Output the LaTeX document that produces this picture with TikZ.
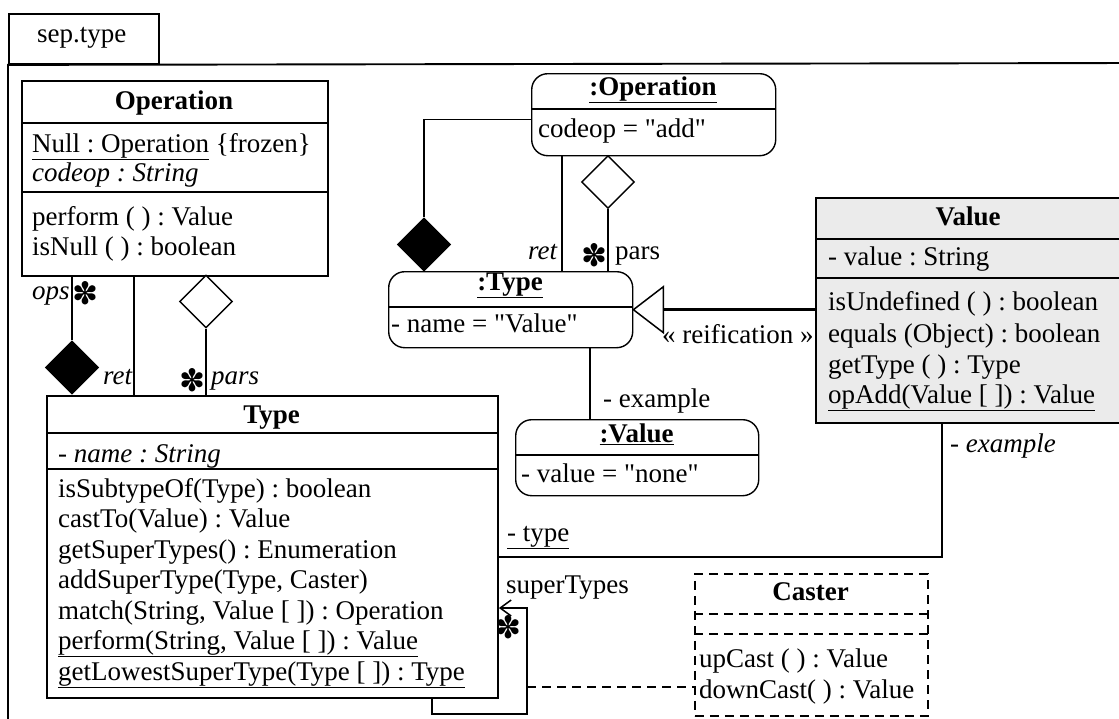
\documentclass[tikz,border=0pt]{standalone}
\usepackage{fontspec}
\setmainfont{Liberation Serif}[Ligatures=TeXOff]
\newfontfamily\dingfont{DejaVu Sans}
\usetikzlibrary{shapes.geometric,arrows.meta}
\newcommand\dgfont{\fontsize{27}{31}\selectfont\frenchspacing}
\newcommand\manystar{{\dingfont\fontsize{31}{31}\selectfont ✽}}

\begin{document}
\begin{tikzpicture}[x=1pt,y=-1pt,
  box/.style={draw, line width=1.9pt, inner sep=0pt, anchor=north west},
  dbox/.style={box, dash pattern=on 9pt off 6pt},
  objbox/.style={draw, line width=1.4pt, rounded corners=16pt, inner sep=0pt, anchor=north west},
  sepline/.style={line width=1.9pt},
  objsep/.style={line width=1.4pt},
  conn/.style={line width=1.5pt},
  txt/.style={inner sep=0pt, font=\dgfont, anchor=base west},
  itxt/.style={inner sep=0pt, font=\dgfont\itshape, anchor=base west},
  head/.style={inner sep=0pt, font=\dgfont\bfseries, anchor=base},
  fdia/.style={diamond, draw, fill=black, line width=1.2pt, minimum width=53pt, minimum height=53pt, inner sep=0pt},
  odia/.style={diamond, draw, fill=white, line width=1.4pt, minimum width=53pt, minimum height=53pt, inner sep=0pt},
  multstar/.style={inner sep=0pt, anchor=center},
]
\definecolor{valfill}{RGB}{235,235,235}
\useasboundingbox (0,0) rectangle (1119,718);

% package frame with its tab
\node[box, minimum width=150pt, minimum height=50pt] (tab) at (8,13) {};
\node[txt] (tabname) at (37,42) {sep.type};
\coordinate (frameR) at (1135,63);
\coordinate (frameB) at (8,730);
\draw[sepline] (frameR) -- (tab.south west) -- (frameB);

% class Operation
\node[box, minimum width=306pt, minimum height=195pt] (op) at (21,80) {};
\draw[sepline] ([yshift=-43pt]op.north west) -- ([yshift=-43pt]op.north east);
\draw[sepline] ([yshift=-112pt]op.north west) -- ([yshift=-112pt]op.north east);
\node[head] (opname) at (174,109) {Operation};
\node[txt] (opa1) at (32,152) {\underline{Null : Operation} \{frozen\}};
\node[itxt] (opa2) at (32,181) {codeop : String};
\node[txt] (opm1) at (32,225) {perform ( ) : Value};
\node[txt] (opm2) at (32,255) {isNull ( ) : boolean};

% class Type
\node[box, minimum width=451pt, minimum height=302pt] (ty) at (46,395) {};
\draw[sepline] ([yshift=-38pt]ty.north west) -- ([yshift=-38pt]ty.north east);
\draw[sepline] ([yshift=-74pt]ty.north west) -- ([yshift=-74pt]ty.north east);
\node[head] (tyname) at (271.5,423) {Type};
\node[itxt] (tya1) at (58,462) {- name : String};
\node[txt] (tym1) at (58,497) {isSubtypeOf(Type) : boolean};
\node[txt] (tym2) at (58,527) {castTo(Value) : Value};
\node[txt] (tym3) at (58,558) {getSuperTypes() : Enumeration};
\node[txt] (tym4) at (58,588) {addSuperType(Type, Caster)};
\node[txt] (tym5) at (58,619) {match(String, Value [ ]) : Operation};
\node[txt] (tym6) at (58,649) {\underline{perform(String, Value [ ]) : Value}};
\node[txt] (tym7) at (58,680) {\underline{getLowestSuperType(Type [ ]) : Type}};

% object :Operation
\node[objbox, minimum width=244pt, minimum height=82pt] (oo) at (531,73) {};
\draw[objsep] ([yshift=-36pt]oo.north west) -- ([yshift=-36pt]oo.north east);
\node[head] (ooname) at (653,95) {\underline{:Operation}};
\node[txt] (ooa1) at (538,137) {codeop = "add"};

% object :Type
\node[objbox, minimum width=244pt, minimum height=76pt] (ot) at (388,271) {};
\draw[objsep] ([yshift=-36pt]ot.north west) -- ([yshift=-36pt]ot.north east);
\node[head] (otname) at (510,290) {\underline{:Type}};
\node[txt] (ota1) at (391,332) {- name = "Value"};

% object :Value
\node[objbox, minimum width=243pt, minimum height=76pt] (ov) at (515,419) {};
\draw[objsep] ([yshift=-36pt]ov.north west) -- ([yshift=-36pt]ov.north east);
\node[head] (ovname) at (636.5,442) {\underline{:Value}};
\node[txt] (ova1) at (521,482) {- value = "none"};

% class Value
\node[box, fill=valfill, minimum width=307pt, minimum height=225pt] (val) at (815,197) {};
\draw[sepline] ([yshift=-42pt]val.north west) -- ([yshift=-42pt]val.north east);
\draw[sepline] ([yshift=-81pt]val.north west) -- ([yshift=-81pt]val.north east);
\node[head] (valname) at (968,225) {Value};
\node[txt] (vala1) at (828,265) {- value : String};
\node[txt] (valm1) at (828,310) {isUndefined ( ) : boolean};
\node[txt] (valm2) at (828,342) {equals (Object) : boolean};
\node[txt] (valm3) at (828,373) {getType ( ) : Type};
\node[txt] (valm4) at (828,403) {\underline{opAdd(Value [ ]) : Value}};

% association class Caster
\node[dbox, minimum width=233pt, minimum height=142pt] (ca) at (694,573) {};
\draw[sepline, dash pattern=on 9pt off 6pt] ([yshift=-41pt]ca.north west) -- ([yshift=-41pt]ca.north east);
\draw[sepline, dash pattern=on 9pt off 6pt] ([yshift=-61pt]ca.north west) -- ([yshift=-61pt]ca.north east);
\node[head] (caname) at (810.5,600) {Caster};
\node[txt] (cam1) at (699,667) {upCast ( ) : Value};
\node[txt] (cam2) at (699,698) {downCast( ) : Value};

% Operation -- Type associations
\node[fdia] (dops) at (72,367.5) {};
\draw[conn] (dops.north) -- (dops.north |- op.south);
\coordinate (xret) at (134,0);
\draw[conn] (op.south -| xret) -- (ty.north -| xret);
\node[odia] (dpars) at (206,301.5) {};
\draw[conn] (dpars.south) -- (dpars.south |- ty.north);
\node[itxt] (lops) at (32,299) {ops};
\node[multstar] (mops) at (85,293) {\manystar};
\node[itxt] (lret) at (103,384) {ret};
\node[multstar] (mpars) at (192,380) {\manystar};
\node[itxt] (lpars) at (211,384) {pars};

% :Operation -- :Type links
\node[fdia] (dret2) at (424,244.5) {};
\draw[conn] ([yshift=-5pt]oo.west) -| (dret2.north);
\coordinate (xret2) at (562,0);
\draw[conn] (oo.south -| xret2) -- (ot.north -| xret2);
\node[odia] (dpars2) at (608,182) {};
\draw[conn] (dpars2.south) -- (dpars2.south |- ot.north);
\node[itxt] (lret2) at (528,259) {ret};
\node[multstar] (mpars2) at (594,255) {\manystar};
\node[txt] (lpars2) at (615,259) {pars};

% reification
\draw[conn, line join=miter] (ot.east) -- ([shift={(30pt,23pt)}]ot.east) -- ([shift={(30pt,-23pt)}]ot.east) -- cycle;
\draw[line width=3pt] ([xshift=30pt]ot.east) -- (val.west |- ot.east);
\node[txt] (lreif) at (662,343) {« reification »};

% :Type -- :Value link
\coordinate (xex) at (590,0);
\draw[conn] (ot.south -| xex) -- (ov.north -| xex);
\node[txt] (lex1) at (603,407) {- example};

% Value -- Type association
\coordinate (xve) at (942,0);
\coordinate (yve) at (0,557);
\draw[conn] (val.south -| xve) -- (xve |- yve) -- (ty.east |- yve);
\node[itxt] (lex2) at (950,452) {- example};
\node[txt] (ltype) at (507,541) {\underline{- type}};

% superTypes self association and its association class link
\coordinate (lpA) at (432,714);
\coordinate (lpB) at (527,714);
\coordinate (lpC) at (527,608);
\draw[conn, -{Straight Barb[length=11pt,width=16pt,line width=1.5pt]}] (ty.south -| lpA) -- (lpA) -- (lpB) -- (lpC) -- (ty.east |- lpC);
\node[txt] (lsup) at (506,593) {superTypes};
\node[multstar] (msup) at (508,627) {\manystar};
\coordinate (ydash) at (0,687);
\draw[conn, dash pattern=on 9pt off 6pt] (lpC |- ydash) -- (ca.west |- ydash);
\end{tikzpicture}
\end{document}
